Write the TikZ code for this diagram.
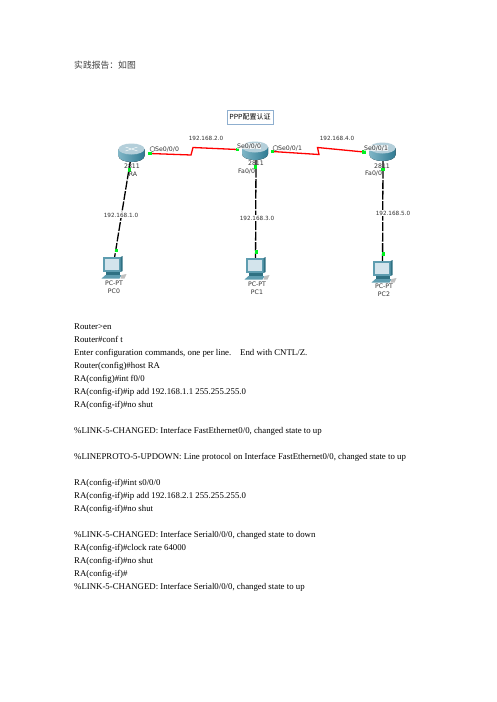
\documentclass[tikz,border=0pt]{standalone}
\usepackage{fontspec}
\setmainfont{Liberation Serif}
\newfontfamily\cjk{Noto Sans CJK SC}
\newfontfamily\lab{DejaVu Sans}
\definecolor{rtop}{HTML}{B4CFDA}
\definecolor{rleft}{HTML}{7FB5C6}
\definecolor{rright}{HTML}{2F7A92}
\definecolor{pcblue}{HTML}{5E9DB0}
\definecolor{pcdark}{HTML}{2F7183}
\definecolor{screen}{HTML}{D3E4EC}
\definecolor{linkred}{HTML}{FF0000}
\definecolor{portgreen}{HTML}{00F020}
\definecolor{boxblue}{HTML}{8FAFCF}
\tikzset{
 x=1pt,y=-1pt,
 lbl/.style={font=\lab\fontsize{6.2}{7}\selectfont,inner sep=0pt,text=black!80},
 iplbl/.style={font=\lab\fontsize{5.7}{6}\selectfont,inner sep=.5pt,text=black!80,fill=white},
 onrouter/.style={fill=white,fill opacity=.7,text opacity=1},
 body/.style={font=\fontsize{8.8}{10}\selectfont,anchor=base west,inner sep=0pt,text=black},
 serial/.style={draw=linkred,line width=1.3pt},
 lan/.style={draw=black,line width=1.3pt,dash pattern=on 9pt off 1.5pt},
 port/.style={fill=portgreen,draw=none,minimum size=3.6pt,inner sep=0pt,rectangle},
 clockmark/.style={draw=black!75,line width=.4pt,fill=white,circle,minimum size=5pt,inner sep=0pt},
 router/.pic={
  \fill[left color=rleft,right color=rright] (-13,-3) -- (-13,4) .. controls (-13,7.5) and (-7,10) .. (0,10) .. controls (7,10) and (13,7.5) .. (13,4) -- (13,-3) -- cycle;
  \fill[rtop] (0,-3) ellipse[x radius=13,y radius=5.5];
  \draw[white!90!rleft,line width=.5pt] (-6,-5) -- (6,-1) (-6,-1) -- (6,-5);
 },
 pcicon/.pic={
  \fill[pcblue] (-10,-13) rectangle (8,2);
  \fill[pcdark] (8,-13) -- (10,-14) -- (10,1) -- (8,2) -- cycle;
  \fill[screen] (-8,-11) rectangle (6,0);
  \fill[pcdark] (-7,2) rectangle (7,5);
  \fill[pcblue] (-11,8.5) -- (-7,5) -- (9,5) -- (7,8.5) -- cycle;
  \fill[black!25] (9,5) -- (14,4) -- (12,8.5) -- (8,8.5) -- cycle;
 }
}
\begin{document}
\begin{tikzpicture}
\useasboundingbox (0,0) rectangle (496,702);
\fill[white] (0,0) rectangle (496,702);
\node[font=\cjk\fontsize{8.8}{10}\selectfont,anchor=west,inner sep=0pt,text=black!75] (title) at (74,65) {实践报告：如图};
\node[draw=boxblue,line width=.6pt,fill=white,inner sep=0pt,minimum width=46pt,minimum height=14pt,font=\cjk\fontsize{7}{8}\selectfont] (cap) at (250,117) {PPP配置认证};

\coordinate (ra) at (131.5,152);
\coordinate (r1) at (255,150);
\coordinate (r2) at (382.5,151);
\coordinate (pc0) at (112.5,270);
\coordinate (pc1) at (255.5,271);
\coordinate (pc2) at (382.5,274);

\draw[lan] (ra) ++(-1,8) coordinate (a1) -- (pc0);
\draw[lan] (r1) ++(1,8) coordinate (a2) -- (pc1);
\draw[lan] (r2) ++(0.5,8) coordinate (a3) -- (pc2);

\pic at (ra) {router};
\pic at (r1) {router};
\pic at (r2) {router};
\pic at (pc0) {pcicon};
\pic at (pc1) {pcicon};
\pic at (pc2) {pcicon};

\coordinate (s1) at (150,153.5);
\coordinate (z1) at (191,155);
\coordinate (z2) at (193,147.5);
\coordinate (s2) at (237.5,149.5);
\coordinate (s3) at (272.5,151.5);
\coordinate (z3) at (319,154.5);
\coordinate (z4) at (317.5,147.5);
\coordinate (s4) at (364,152);
\draw[serial] (s1) -- (z1) -- (z2) -- (s2);
\draw[serial] (s3) -- (z3) -- (z4) -- (s4);

\node[port] (p1) at (s1) {};
\node[port] (p2) at (s2) {};
\node[port] (p3) at (s3) {};
\node[port] (p4) at (s4) {};
\node[port] (p5) at (129.5,170) {};
\node[port] (p6) at (255.5,167) {};
\node[port] (p7) at (383,169.5) {};
\node[port] (p8) at (116.5,250.5) {};
\node[port] (p9) at (256.5,252) {};
\node[port] (p10) at (383.5,254) {};

\node[iplbl] (n1) at (206,138) {192.168.2.0};
\node[iplbl] (n2) at (337,138) {192.168.4.0};
\node[iplbl] (n3) at (121,215) {192.168.1.0};
\node[iplbl] (n4) at (257,218) {192.168.3.0};
\node[iplbl] (n5) at (393,213) {192.168.5.0};
\node[clockmark] (c1) at (152.5,149) {};
\node[lbl,anchor=west] (i1) at (155,149) {Se0/0/0};
\node[lbl,anchor=west,onrouter] (i2) at (237,146) {Se0/0/0};
\node[clockmark] (c3) at (275.5,148) {};
\node[lbl,anchor=west] (i3) at (278,148) {Se0/0/1};
\node[lbl,anchor=west,onrouter] (i4) at (364,148) {Se0/0/1};
\node[lbl,anchor=west] (i5) at (238,171) {Fa0/0};
\node[lbl,anchor=west] (i6) at (365,173.5) {Fa0/0};
\node[lbl] (m1) at (132,166) {2811};
\node[lbl] (m2) at (256,163) {2811};
\node[lbl] (m3) at (382,166) {2811};
\node[lbl] (h1) at (133,174) {RA};
\node[lbl] (pa) at (114,283) {PC-PT};
\node[lbl] (pb) at (114,291.5) {PC0};
\node[lbl] (pc) at (257,284) {PC-PT};
\node[lbl] (pd) at (257,292.5) {PC1};
\node[lbl] (pe) at (384,286) {PC-PT};
\node[lbl] (pf) at (384,294.5) {PC2};

\node[body] (t1) at (74,329) {Router>en};
\node[body] (t2) at (74,342) {Router\#conf t};
\node[body] (t3) at (74,355) {Enter configuration commands, one per line.\ \ \ \ End with CNTL/Z.};
\node[body] (t4) at (74,368) {Router(config)\#host RA};
\node[body] (t5) at (74,381) {RA(config)\#int f0/0};
\node[body] (t6) at (74,394) {RA(config-if)\#ip add 192.168.1.1 255.255.255.0};
\node[body] (t7) at (74,407) {RA(config-if)\#no shut};
\node[body] (t8) at (74,433) {\%LINK-5-CHANGED: Interface FastEthernet0/0, changed state to up};
\node[body] (t9) at (74,459) {\%LINEPROTO-5-UPDOWN: Line protocol on Interface FastEthernet0/0, changed state to up};
\node[body] (t10) at (74,485) {RA(config-if)\#int s0/0/0};
\node[body] (t11) at (74,498) {RA(config-if)\#ip add 192.168.2.1 255.255.255.0};
\node[body] (t12) at (74,511) {RA(config-if)\#no shut};
\node[body] (t13) at (74,537) {\%LINK-5-CHANGED: Interface Serial0/0/0, changed state to down};
\node[body] (t14) at (74,550) {RA(config-if)\#clock rate 64000};
\node[body] (t15) at (74,563) {RA(config-if)\#no shut};
\node[body] (t16) at (74,576) {RA(config-if)\#};
\node[body] (t17) at (74,589) {\%LINK-5-CHANGED: Interface Serial0/0/0, changed state to up};
\end{tikzpicture}
\end{document}
